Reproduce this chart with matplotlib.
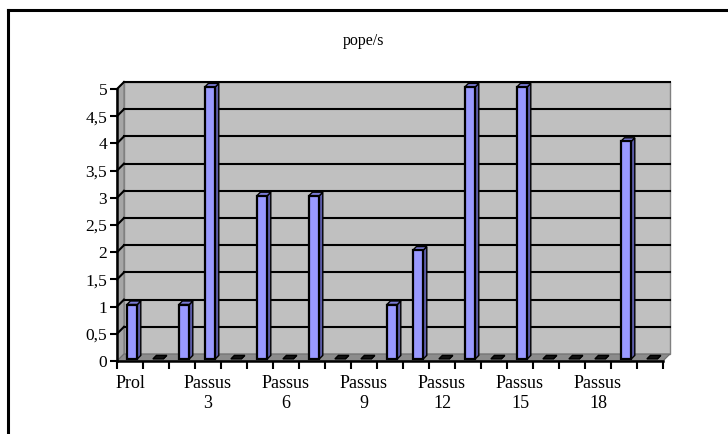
import matplotlib
matplotlib.use("Agg")
import matplotlib.pyplot as plt
from matplotlib.patches import Polygon
from matplotlib.lines import Line2D

# ---- data ----
categories = ["Prol"] + [f"Passus {i}" for i in range(1, 21)]
values = [1, 0, 1, 5, 0, 3, 0, 3, 0, 0, 1, 2, 0, 5, 0, 5, 0, 0, 0, 4, 0]
title = "pope/s"
y_ticks = [0, 0.5, 1, 1.5, 2, 2.5, 3, 3.5, 4, 4.5, 5]
label_every = 3

plt.rcParams['font.family'] = ['Liberation Serif', 'DejaVu Serif']

W, H = 728, 434
fig = plt.figure(figsize=(W / 100, H / 100), dpi=100)
fig.patch.set_facecolor('white')

# outer frame (top & left edges visible)
fig.add_artist(Line2D([8 / W, 8 / W], [0, 1 - 10 / H], transform=fig.transFigure,
                      color='black', lw=2.2))
fig.add_artist(Line2D([8 / W, 1], [1 - 10 / H, 1 - 10 / H], transform=fig.transFigure,
                      color='black', lw=2.2))
fig.text(364 / W, 1 - 41 / H, title, ha='center', va='center', fontsize=11.5)

left, right = 117, 663
bottom, top = 361, 89
ax = fig.add_axes([left / W, 1 - bottom / H, (right - left) / W, (bottom - top) / H])
n = len(values)
ymax = 5
ax.set_xlim(0, n)
ax.set_ylim(0, ymax)
ax.patch.set_visible(False)

# depth offsets in data units
dx = 7 / ((right - left) / n)
dy = 7 / ((bottom - top) / ymax)

# left wall
ax.add_patch(Polygon([(0, 0), (dx, dy), (dx, ymax + dy), (0, ymax)], closed=True,
                     facecolor='#a6a6a6', edgecolor='#808080', lw=0.8, clip_on=False, zorder=1))
# back wall
ax.add_patch(Polygon([(dx, dy), (n + dx, dy), (n + dx, ymax + dy), (dx, ymax + dy)], closed=True,
                     facecolor='#c0c0c0', edgecolor='#808080', lw=1.0, clip_on=False, zorder=1))
# floor
ax.add_patch(Polygon([(0, 0), (n, 0), (n + dx, dy), (dx, dy)], closed=True,
                     facecolor='#8c8c8c', edgecolor='#6e6e6e', lw=0.8, clip_on=False, zorder=2))
# gridlines on back wall + diagonal on left wall
for v in y_ticks[1:]:
    ax.plot([dx, n + dx], [v + dy, v + dy], color='black', lw=1.5, clip_on=False, zorder=3)
    ax.plot([0, dx], [v, v + dy], color='black', lw=1.5, clip_on=False, zorder=3)

# bars
bw = 0.4
f0 = 0.3   # front depth fraction
fd = 0.5   # bar depth fraction
bdx, bdy = fd * dx, fd * dy
for i, v in enumerate(values):
    x0 = i + 0.5 - bw / 2 + f0 * dx
    y0 = f0 * dy
    x1 = x0 + bw
    y1 = y0 + v
    # side face
    ax.add_patch(Polygon([(x1, y0), (x1 + bdx, y0 + bdy), (x1 + bdx, y1 + bdy), (x1, y1)],
                         closed=True, facecolor='#5c5ca8', edgecolor='black', lw=1.0,
                         clip_on=False, zorder=5, joinstyle='miter'))
    # top face
    ax.add_patch(Polygon([(x0, y1), (x1, y1), (x1 + bdx, y1 + bdy), (x0 + bdx, y1 + bdy)],
                         closed=True, facecolor='#7a7ad6' if v > 0 else '#111111',
                         edgecolor='black', lw=1.0, clip_on=False, zorder=5))
    # front face
    if v > 0:
        ax.add_patch(Polygon([(x0, y0), (x1, y0), (x1, y1), (x0, y1)], closed=True,
                             facecolor='#9999ff', edgecolor='black', lw=1.6,
                             clip_on=False, zorder=6))

# axes lines
for s in ['top', 'right']:
    ax.spines[s].set_visible(False)
ax.spines['left'].set_linewidth(1.8)
ax.spines['bottom'].set_linewidth(1.8)
ax.spines['left'].set_zorder(7)
ax.spines['bottom'].set_zorder(7)

ax.set_yticks(y_ticks)
ax.set_yticklabels([f"{t:g}".replace('.', ',') for t in y_ticks], fontsize=12.5)
ax.tick_params(axis='y', length=5, width=1.5, pad=2)

ax.set_xticks(range(n + 1))
ax.set_xticklabels([])
ax.tick_params(axis='x', which='major', length=6, width=1.5, direction='out')
label_pos = [i + 0.5 for i in range(0, n, label_every)]
labels = [categories[i].replace(' ', '\n') for i in range(0, n, label_every)]
ax.set_xticks(label_pos, minor=True)
ax.set_xticklabels(labels, minor=True, fontsize=13, linespacing=1.25)
ax.tick_params(axis='x', which='minor', length=0, pad=10)

fig.savefig("out.png", dpi=100)
